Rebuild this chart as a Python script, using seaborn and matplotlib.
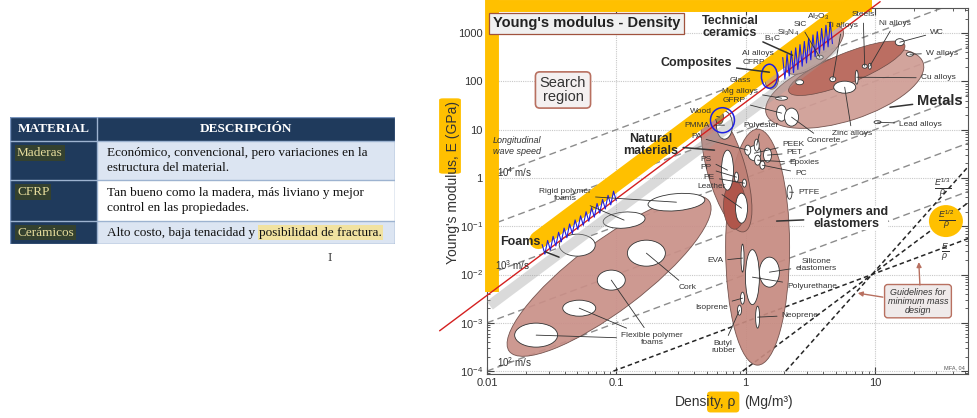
import numpy as np
import pandas as pd
import matplotlib
matplotlib.use('Agg')
import matplotlib.pyplot as plt
import seaborn as sns
from matplotlib.patches import Ellipse, Rectangle, FancyBboxPatch
from matplotlib.transforms import ScaledTranslation
from matplotlib.ticker import LogLocator, NullFormatter

sns.set_theme(style='white')
plt.rcParams['font.family'] = ['Liberation Sans', 'DejaVu Sans']
plt.rcParams['mathtext.fontset'] = 'custom'
plt.rcParams['mathtext.rm'] = 'Liberation Sans'
plt.rcParams['mathtext.it'] = 'Liberation Sans:italic'
plt.rcParams['mathtext.bf'] = 'Liberation Sans:bold'

# ---------------- table data
headers = ['MATERIAL', 'DESCRIPCIÓN']
materials = ['Maderas', 'CFRP', 'Cerámicos']
descriptions = ['Económico, convencional, pero variaciones en la\nestructura del material.',
                'Tan bueno como la madera, más liviano y mejor\ncontrol en las propiedades.',
                'Alto costo, baja tenacidad y']
highlighted = ['', '', 'posibilidad de fractura.']

# ---------------- chart data (density Mg/m3, modulus GPa)
x_ticks = [0.01, 0.1, 1, 10]
x_ticklabels = ['0.01', '0.1', '1', '10']
y_ticks = [1e-4, 1e-3, 1e-2, 1e-1, 1, 10, 100, 1000]
y_ticklabels = ['10$^{-4}$', '10$^{-3}$', '10$^{-2}$', '10$^{-1}$', '1', '10', '100', '1000']

wave_k = [0.01, 0.1, 1, 10, 100]          # E = k * rho  (longitudinal wave speed)
guide_rho0, guide_E0 = 9.5, 0.01          # common point of min-mass guidelines
guide_slopes = [1, 2, 3]
search_C = 37                              # search boundary E = C * rho^2

env_names = ['Polymers', 'Natural', 'Foams', 'Metals', 'Ceramics', 'Composites']
env_rho = [1.24, 0.713, 0.088, 5.85, 3.43, 1.59]
env_E = [0.0369, 1.45, 0.0093, 72, 443, 116]

core_names = ['Metals core', 'Leather region']
core_rho = [6.07, 0.822]
core_E = [187, 0.273]

mat_names = ['Rigid foam 1', 'Rigid foam 2', 'Foam 3', 'Cork', 'Flex foam 1', 'Flex foam 2',
             'Flex foam 3', 'Leather', 'PTFE', 'EVA', 'Polyurethane', 'Silicone', 'Isoprene',
             'Butyl', 'Neoprene', 'PS', 'PP', 'PE', 'PEEK', 'PET', 'Epoxies', 'PC', 'PA',
             'Polyester', 'PMMA', 'GFRP', 'Concrete', 'WC', 'W alloys', 'Steels', 'Ni alloys',
             'Cu alloys', 'Ti alloys', 'Zinc alloys', 'Lead alloys', 'Al alloys', 'Mg alloys', 'SiC']
mat_rho = [0.292, 0.115, 0.0499, 0.171, 0.0915, 0.0517, 0.0240, 0.931, 2.19, 0.948, 1.13, 1.53,
           0.948, 0.898, 1.24, 0.725, 0.851, 0.98, 1.17, 1.48, 1.24, 1.35, 1.04, 1.22, 0.687,
           1.90, 2.27, 15.6, 18.7, 8.36, 9.15, 7.25, 4.73, 5.85, 10.5, 2.62, 1.90, 3.75]
mat_E = [0.315, 0.134, 0.0406, 0.0277, 0.00766, 0.00201, 0.000556, 0.237, 0.508, 0.0219, 0.00883,
         0.0112, 0.00324, 0.00183, 0.00131, 1.45, 1.04, 0.78, 3.26, 2.97, 2.34, 1.84, 3.77, 4.78,
         12.4, 22.0, 18.2, 649, 365, 206, 206, 122, 111, 75.9, 14.3, 96, 44.9, 317]

wood_rho, wood_E = 0.629, 18.2

anchor = {'ceramics': (2.31, 348), 'composites': (1.53, 155), 'metals': (13.1, 29.2),
          'natural': (0.575, 3.77), 'polymers': (1.74, 0.128), 'foams': (0.0361, 0.0229)}

# ---------------- sizes / styles (pixels at 100 dpi)
env_size = [(64, 236, 0), (128, 38, -74), (250, 70, 37), (165, 65, 18), (70, 28, 38), (14, 22, 0)]
env_col = ['#c68a80', '#bf7f75', '#c99088', '#cf9c94', '#c9a09a', '#d8a247']
core_size = [(125, 30, 22), (22, 48, 0)]
mat_size = [(57, 17, 5), (42, 16, 5), (36, 22, 0), (38, 26, 0), (28, 20, 0), (33, 16, 0), (43, 24, 0),
            (12, 30, 0), (5, 14, 0), (3, 28, 0), (14, 55, 0), (20, 30, 0), (4, 12, 0), (4, 10, 0),
            (4, 22, 0), (12, 40, 0), (4, 10, 0), (4, 8, 0), (13, 15, 0), (8, 14, 0), (6, 10, 0),
            (5, 8, 0), (6, 10, 0), (5, 12, 0), (16, 28, 0), (10, 16, 0), (14, 18, 0), (9, 7, 0),
            (7, 4, 0), (5, 4, 0), (3, 6, 0), (3, 14, 0), (6, 5, 0), (22, 12, 0), (7, 3, 0),
            (8, 5, 0), (12, 4, 0), (7, 4, 0)]

fig = plt.figure(figsize=(9.78, 4.18), dpi=100)
fig.patch.set_facecolor('white')
ax = fig.add_axes([487 / 978, 44 / 418, 481 / 978, 366 / 418])
ax.set_xscale('log')
ax.set_yscale('log')
ax.set_xlim(0.01, 52.6)
ax.set_ylim(10 ** -4.06, 10 ** 3.52)
ax.set_autoscale_on(False)


def bubble(rho, E, w, h, ang, **kw):
    tr = fig.dpi_scale_trans + ScaledTranslation(rho, E, ax.transData)
    ax.add_patch(Ellipse((0, 0), w / 100, h / 100, angle=ang, transform=tr, **kw))


# guidelines
rho_end = 60
wave = pd.DataFrame([(k, r, k * r) for k in wave_k for r in (0.01, rho_end)], columns=['k', 'rho', 'E'])
sns.lineplot(data=wave, x='rho', y='E', units='k', estimator=None, color='#8c8c8c',
             lw=1.0, ls=(0, (5, 3)), zorder=1, ax=ax)
rows = []
for s in guide_slopes:
    r0 = guide_rho0 * (1e-4 / guide_E0) ** (1 / s)
    for r in (r0, rho_end):
        rows.append((s, r, guide_E0 * (r / guide_rho0) ** s))
guide = pd.DataFrame(rows, columns=['slope', 'rho', 'E'])
sns.lineplot(data=guide, x='rho', y='E', units='slope', estimator=None, color='#262626',
             lw=1.1, ls=(0, (3, 2)), zorder=1.2, ax=ax)
ax.set_xlabel('')
ax.set_ylabel('')

# material envelopes
for (w, h, a), r, e, c in zip(env_size, env_rho, env_E, env_col):
    bubble(r, e, w, h, a, fc=c, ec='#6b4a45', lw=0.6, alpha=0.92, zorder=2)
for (w, h, a), r, e, c in zip(core_size, core_rho, core_E, ['#bb6e62', '#b0564b']):
    bubble(r, e, w, h, a, fc=c, ec='#6b4a45', lw=0.5, zorder=2.4)
for (w, h, a), r, e in zip(mat_size, mat_rho, mat_E):
    bubble(r, e, w, h, a, fc='white', ec='#333333', lw=0.6, zorder=3)
bubble(wood_rho, wood_E, 8, 14, 0, fc='#b08a3a', ec='#333333', lw=0.5, zorder=3.1)

# search boundary, highlight strokes
rb = np.array([0.0105, 5])
ax.plot(rb, search_C * rb ** 2 * 10 ** -0.25, color='#a0a0a0', lw=7.5, alpha=0.38,
        solid_capstyle='butt', zorder=3.5)
ry = np.array([0.025, 7.6])
ax.plot(ry, search_C * ry ** 2 * 10 ** 0.35, color='#ffc000', lw=13, solid_capstyle='round',
        zorder=4, clip_on=False)
ax.plot([0.011, 0.011], [0.0043, 10 ** 3.7], color='#ffc000', lw=10, solid_capstyle='butt',
        zorder=4, clip_on=False)
ax.plot([0.0098, 9.5], [3600, 3600], color='#ffc000', lw=8.6, solid_capstyle='butt',
        zorder=4, clip_on=False)
rr = np.array([0.0043, 11])
ax.plot(rr, search_C * rr ** 2, color='#d42020', lw=1.0, zorder=5, clip_on=False)

# blue pen marks
for a, b, amp, n in [(0.0267, 0.1, 0.15, 28), (1.94, 4.7, 0.3, 24)]:
    zr = np.geomspace(a, b, n)
    off = np.tile([amp, -amp * 0.6], n // 2)
    ax.plot(zr, search_C * zr ** 2 * 10 ** (off + 0.05), color='#1f1fe0', lw=0.8, zorder=6)
bubble(1.53, 128, 16, 24, 0, fc='none', ec='#1f1fe0', lw=1.1, zorder=6)
bubble(0.663, 15.7, 24, 25, 0, fc='none', ec='#1f1fe0', lw=1.1, zorder=6)
bubble(35.5, 0.128, 34, 32, 0, fc='#ffc000', ec='none', zorder=1.5)

# axes styling
ax.set_xticks(x_ticks, x_ticklabels)
ax.set_yticks(y_ticks, y_ticklabels)
ax.xaxis.set_minor_locator(LogLocator(base=10, subs=range(2, 10), numticks=20))
ax.yaxis.set_minor_locator(LogLocator(base=10, subs=range(2, 10), numticks=20))
ax.xaxis.set_minor_formatter(NullFormatter())
ax.yaxis.set_minor_formatter(NullFormatter())
ax.tick_params(which='both', direction='in', top=True, right=True, bottom=True, left=True,
               colors='#444444', labelsize=8, labelcolor='#333333', pad=3)
ax.tick_params(which='major', length=5, width=0.8)
ax.tick_params(which='minor', length=2.5, width=0.6)
ax.grid(True, which='major', color='#c8c8c8', lw=0.8, ls=(0, (1, 1)))
ax.set_axisbelow(True)
for sp in ax.spines.values():
    sp.set_color('#555555')
    sp.set_linewidth(0.8)

# texts
ax.text(0.012, 0.958, "Young's modulus - Density", transform=ax.transAxes, fontsize=10.5,
        fontweight='bold', color='#222222', va='center', ha='left', zorder=8,
        bbox=dict(boxstyle='square,pad=0.25', fc='#f0f0f0', ec='#a0523d', lw=0.9))
ax.text(0.158, 0.776, 'Search\nregion', transform=ax.transAxes, fontsize=10.5, color='#333333',
        ha='center', va='center', linespacing=0.95, zorder=8,
        bbox=dict(boxstyle='round,pad=0.3', fc='#f4f0f0', ec='#b87060', lw=1.2))
ax.text(0.012, 0.623, 'Longitudinal\nwave speed', transform=ax.transAxes, fontsize=6.5,
        style='italic', color='#333333', ha='left', va='center', zorder=8)
for txt, xf, yf in [('10$^4$ m/s', 0.021, 0.552), ('10$^3$ m/s', 0.017, 0.298), ('10$^2$ m/s', 0.021, 0.033)]:
    ax.text(xf, yf, txt, transform=ax.transAxes, fontsize=7, color='#333333', ha='left',
            va='center', zorder=8)
for txt, xf, yf in [(r'$\frac{E^{1/3}}{\rho}$', 0.948, 0.508), (r'$\frac{E^{1/2}}{\rho}$', 0.956, 0.421),
                    (r'$\frac{E}{\rho}$', 0.952, 0.333)]:
    ax.text(xf, yf, txt, transform=ax.transAxes, fontsize=9, color='#333333', ha='center',
            va='center', zorder=8)
ax.text(0.896, 0.199, 'Guidelines for\nminimum mass\ndesign', transform=ax.transAxes, fontsize=6.5,
        style='italic', color='#333333', ha='center', va='center', zorder=8, linespacing=1.0,
        bbox=dict(boxstyle='round,pad=0.35', fc='#efeaea', ec='#b87060', lw=1.0))
for xy, xyt in [((7.38, 0.00412), (0.823, 0.210)), ((21.9, 0.0181), (0.900, 0.243))]:
    ax.annotate('', xy=xy, xytext=xyt, textcoords='axes fraction', zorder=8,
                arrowprops=dict(arrowstyle='-|>', color='#b87060', lw=1.0, mutation_scale=7,
                                shrinkA=0, shrinkB=0))
ax.text(0.971, 0.016, 'MFA, 04', transform=ax.transAxes, fontsize=4, color='#555555',
        ha='center', va='center', zorder=8)

targets = dict(zip(mat_names, zip(mat_rho, mat_E)))
targets.update(anchor)
targets['Wood'] = (wood_rho, wood_E)
leader = dict(arrowstyle='-', color='#333333', lw=0.6, shrinkA=1, shrinkB=0)

big_labels = [('Technical\nceramics', 0.505, 0.948, 'ceramics', 9),
              ('Composites', 0.435, 0.850, 'composites', 9),
              ('Metals', 0.942, 0.746, 'metals', 10.5),
              ('Natural\nmaterials', 0.341, 0.626, 'natural', 9),
              ('Polymers and\nelastomers', 0.748, 0.426, 'polymers', 9),
              ('Foams', 0.069, 0.361, 'foams', 9)]
for txt, xf, yf, key, fs in big_labels:
    ax.annotate(txt, xy=targets[key], xytext=(xf, yf), textcoords='axes fraction', fontsize=fs,
                fontweight='bold', color='#2a2a2a', ha='center', va='center', linespacing=0.95,
                zorder=8, arrowprops=dict(leader, lw=1.1),
                bbox=dict(boxstyle='square,pad=0.05', fc='white', ec='none') if key == 'polymers' else None)

small_labels = [('SiC', 0.651, 0.956, ['SiC']), ('Al$_2$O$_3$', 0.688, 0.975, []),
                ('Si$_3$N$_4$', 0.626, 0.932, []), ('B$_4$C', 0.593, 0.915, []),
                ('Steels', 0.782, 0.981, ['Steels']), ('Ti alloys', 0.738, 0.951, ['Ti alloys']),
                ('Ni alloys', 0.848, 0.959, ['Ni alloys']), ('WC', 0.936, 0.934, ['WC']),
                ('W alloys', 0.946, 0.877, ['W alloys']), ('Cu alloys', 0.938, 0.809, ['Cu alloys']),
                ('Lead alloys', 0.902, 0.683, ['Lead alloys']), ('Zinc alloys', 0.759, 0.656, ['Zinc alloys']),
                ('Concrete', 0.701, 0.637, ['Concrete']), ('Al alloys', 0.563, 0.877, []),
                ('CFRP', 0.555, 0.852, []), ('Glass', 0.526, 0.801, []),
                ('Mg alloys', 0.526, 0.773, ['Mg alloys']), ('GFRP', 0.514, 0.746, ['GFRP']),
                ('Polyester', 0.570, 0.678, ['Polyester']), ('PEEK', 0.638, 0.628, ['PEEK']),
                ('PET', 0.640, 0.604, ['PET']), ('Epoxies', 0.659, 0.577, ['Epoxies']),
                ('PC', 0.653, 0.549, ['PC']), ('PTFE', 0.669, 0.495, ['PTFE']),
                ('Wood', 0.445, 0.716, ['Wood']), ('PMMA', 0.437, 0.680, ['PMMA']),
                ('PA', 0.435, 0.648, ['PA']), ('PS', 0.455, 0.587, ['PS']), ('PP', 0.455, 0.563, ['PP']),
                ('PE', 0.462, 0.538, ['PE']), ('Leather', 0.466, 0.511, ['Leather']),
                ('EVA', 0.474, 0.309, ['EVA']), ('Silicone\nelastomers', 0.684, 0.298, ['Silicone']),
                ('Polyurethane', 0.676, 0.238, ['Polyurethane']), ('Isoprene', 0.466, 0.183, ['Isoprene']),
                ('Neoprene', 0.651, 0.161, ['Neoprene']), ('Butyl\nrubber', 0.491, 0.074, ['Butyl']),
                ('Cork', 0.418, 0.235, ['Cork']),
                ('Rigid polymer\nfoams', 0.162, 0.489, ['Rigid foam 1', 'Rigid foam 2']),
                ('Flexible polymer\nfoams', 0.343, 0.096, ['Flex foam 1', 'Flex foam 2', 'Flex foam 3'])]
for txt, xf, yf, keys in small_labels:
    if not keys:
        ax.text(xf, yf, txt, transform=ax.transAxes, fontsize=6, color='#333333', ha='center',
                va='center', zorder=8, linespacing=0.95)
        continue
    for i, key in enumerate(keys):
        ax.annotate(txt, xy=targets[key], xytext=(xf, yf), textcoords='axes fraction', fontsize=6,
                    color='#333333' if i == 0 else 'none', ha='center', va='center',
                    linespacing=0.95, zorder=8, arrowprops=leader)

# axis labels with highlighter marks
fig.patches.append(FancyBboxPatch((443 / 978, 1 - 172 / 418), 14 / 978, 72 / 418,
                                  boxstyle='round,pad=0.004', transform=fig.transFigure,
                                  fc='#ffc000', ec='none', zorder=1))
fig.text(453 / 978, 1 - 182 / 418, "Young's modulus, E (GPa)", rotation=90, fontsize=10,
         color='#333333', ha='center', va='center', zorder=3)
xl1 = fig.text(675 / 978, 1 - 402 / 418, 'Densi', fontsize=10, color='#333333',
               ha='left', va='center', zorder=3)
xl2 = ax.annotate('ty, ρ', xy=(1, 0), xycoords=xl1, xytext=(0, 0), textcoords='offset points',
                  annotation_clip=False, fontsize=10, color='#333333', ha='left', va='bottom',
                  bbox=dict(boxstyle='round,pad=0.25', fc='#ffc000', ec='none'))
ax.annotate('(Mg/m³)', xy=(1, 0), xycoords=xl2, xytext=(6, 0), textcoords='offset points',
            annotation_clip=False, fontsize=10, color='#333333', ha='left', va='bottom')

# ---------------- table
tax = fig.add_axes([10 / 978, 1 - 244 / 418, 385 / 978, 127 / 418])
tax.set_xlim(0, 385)
tax.set_ylim(127, 0)
tax.axis('off')
row_edges = [0, 24, 63, 104, 127]
col_split = 87
navy = '#1f3a5c'
row_fill = ['#dce5f2', 'white', '#dce5f2']
serif = 'Liberation Serif'
tax.add_patch(Rectangle((0, 0), 385, 24, fc=navy, ec='none'))
tax.text(col_split / 2, 12, headers[0], family=serif, fontsize=9.5, fontweight='bold',
         color='white', ha='center', va='center')
tax.text((col_split + 385) / 2, 12, headers[1], family=serif, fontsize=9.5, fontweight='bold',
         color='white', ha='center', va='center')
first_line = [36, 75, 115.5]
for i, (mat, desc) in enumerate(zip(materials, descriptions)):
    y0, y1 = row_edges[i + 1], row_edges[i + 2]
    tax.add_patch(Rectangle((0, y0), col_split, y1 - y0, fc=navy, ec='none'))
    tax.add_patch(Rectangle((col_split, y0), 385 - col_split, y1 - y0, fc=row_fill[i], ec='none'))
    tax.text(7, first_line[i], mat, family=serif, fontsize=9.5, color='#e6dc9c', ha='left',
             va='center', bbox=dict(boxstyle='square,pad=0.15', fc='#34412f', ec='none'))
    t = tax.text(97, (y0 + y1) / 2, desc, family=serif, fontsize=9.5, color='#111111',
                 ha='left', va='center', linespacing=1.3)
    if highlighted[i]:
        tax.annotate(highlighted[i], xy=(1, 0.5), xycoords=t, xytext=(3, 0),
                     textcoords='offset points', family=serif, fontsize=9.5, color='#111111',
                     ha='left', va='center',
                     bbox=dict(boxstyle='square,pad=0.1', fc='#f1e2a0', ec='none'))
for y in row_edges[1:-1]:
    tax.plot([0, 385], [y, y], color='#9db3d0', lw=1.0)
tax.plot([col_split, col_split], [0, 127], color='#9db3d0', lw=1.0)
tax.add_patch(Rectangle((0, 0), 385, 127, fc='none', ec='#7a95bd', lw=1.0))
fig.text(330 / 978, 1 - 258 / 418, 'I', family='DejaVu Serif', fontsize=8, color='#444444',
         ha='center', va='center')

fig.savefig('out.png', dpi=100, facecolor='white')
